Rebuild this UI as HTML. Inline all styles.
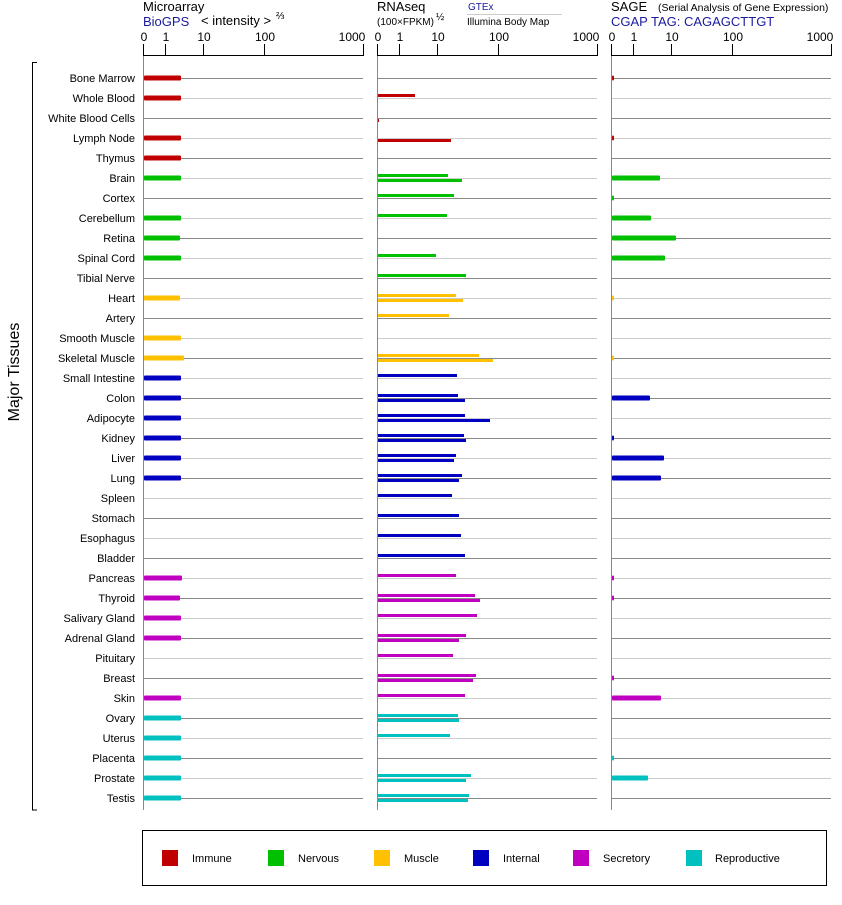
<!DOCTYPE html>
<html><head><meta charset="utf-8"><style>
body{margin:0;background:#fff}
svg text{font-family:"Liberation Sans",Arial,sans-serif}
</style></head><body>
<svg id="s" width="842" height="900" xmlns="http://www.w3.org/2000/svg">
<rect width="842" height="900" fill="#fff"/>
<g id="lines"></g>
<text x="143" y="11" font-size="13">Microarray</text>
<text x="143" y="26" font-size="13" fill="#1a1aa0">BioGPS</text>
<text x="201" y="25" font-size="13">&lt; intensity &gt;</text>
<text x="276" y="19" font-size="10">⅔</text>
<text x="377" y="11" font-size="13">RNAseq</text>
<text x="377" y="25" font-size="10">(100×FPKM)</text>
<text x="436" y="20" font-size="10">½</text>
<text x="468" y="10" font-size="10" fill="#1a1aa0">GTEx</text>
<line x1="467" y1="14.5" x2="562" y2="14.5" stroke="#ccc"/>
<text x="467" y="25" font-size="10">Illumina Body Map</text>
<text x="611" y="11" font-size="13">SAGE</text>
<text x="658" y="11" font-size="10.5">(Serial Analysis of Gene Expression)</text>
<text x="611" y="26" font-size="13" fill="#1a1aa0">CGAP TAG: CAGAGCTTGT</text>
<g font-size="12" text-anchor="middle">
<text x="144" y="41">0</text><text x="166" y="41">1</text><text x="204" y="41">10</text><text x="265" y="41">100</text><text x="352" y="41">1000</text>
<text x="378" y="41">0</text><text x="400" y="41">1</text><text x="438" y="41">10</text><text x="499" y="41">100</text><text x="586" y="41">1000</text>
<text x="612" y="41">0</text><text x="634" y="41">1</text><text x="672" y="41">10</text><text x="733" y="41">100</text><text x="820" y="41">1000</text>
</g>
<text transform="translate(19,372) rotate(-90)" font-size="16" text-anchor="middle">Major Tissues</text>
<path d="M37,62.5 H32.5 V810 H37" fill="none" stroke="#000"/>
<g font-size="11" text-anchor="end">
<text x="135" y="82">Bone Marrow</text><text x="135" y="102">Whole Blood</text><text x="135" y="122">White Blood Cells</text><text x="135" y="142">Lymph Node</text><text x="135" y="162">Thymus</text>
<text x="135" y="182">Brain</text><text x="135" y="202">Cortex</text><text x="135" y="222">Cerebellum</text><text x="135" y="242">Retina</text><text x="135" y="262">Spinal Cord</text><text x="135" y="282">Tibial Nerve</text>
<text x="135" y="302">Heart</text><text x="135" y="322">Artery</text><text x="135" y="342">Smooth Muscle</text><text x="135" y="362">Skeletal Muscle</text>
<text x="135" y="382">Small Intestine</text><text x="135" y="402">Colon</text><text x="135" y="422">Adipocyte</text><text x="135" y="442">Kidney</text><text x="135" y="462">Liver</text><text x="135" y="482">Lung</text><text x="135" y="502">Spleen</text><text x="135" y="522">Stomach</text><text x="135" y="542">Esophagus</text><text x="135" y="562">Bladder</text>
<text x="135" y="582">Pancreas</text><text x="135" y="602">Thyroid</text><text x="135" y="622">Salivary Gland</text><text x="135" y="642">Adrenal Gland</text><text x="135" y="662">Pituitary</text><text x="135" y="682">Breast</text><text x="135" y="702">Skin</text>
<text x="135" y="722">Ovary</text><text x="135" y="742">Uterus</text><text x="135" y="762">Placenta</text><text x="135" y="782">Prostate</text><text x="135" y="802">Testis</text>
</g>
<g id="bars"></g>
<rect x="142.5" y="830.5" width="684" height="55" fill="none" stroke="#000"/>
<rect x="162" y="850" width="16" height="16" fill="#c00000"/><rect x="268" y="850" width="16" height="16" fill="#00c000"/><rect x="374" y="850" width="16" height="16" fill="#ffc000"/><rect x="473" y="850" width="16" height="16" fill="#0000c0"/><rect x="573" y="850" width="16" height="16" fill="#c000c0"/><rect x="686" y="850" width="16" height="16" fill="#00c0c0"/>
<g font-size="11"><text x="192" y="862">Immune</text><text x="298" y="862">Nervous</text><text x="404" y="862">Muscle</text><text x="503" y="862">Internal</text><text x="603" y="862">Secretory</text><text x="715" y="862">Reproductive</text></g>
</svg>
<script>
var NS="http://www.w3.org/2000/svg";
function el(p,t,a){var e=document.createElementNS(NS,t);for(var k in a)e.setAttribute(k,a[k]);document.getElementById(p).appendChild(e);}
var P=[143,377,611],T=[0,22,60,121,220];
for(var i=0;i<37;i++){var y=78+20*i+0.5;var c=i%2?"#ccc":"#888";
 P.forEach(function(x){el("lines","line",{x1:x,y1:y,x2:x+220,y2:y,stroke:c});});}
P.forEach(function(x){
 el("lines","line",{x1:x+0.5,y1:55.5,x2:x+0.5,y2:810,stroke:"#888"});
 el("lines","line",{x1:x,y1:55.5,x2:x+221,y2:55.5,stroke:"#000"});
 T.forEach(function(t){el("lines","line",{x1:x+t+0.5,y1:44,x2:x+t+0.5,y2:56,stroke:"#000"});});
});
var C={r:"#c00000",g:"#00c000",y:"#ffc000",b:"#0000c0",m:"#c000c0",c:"#00c0c0"};
var cats="rrrrrggggggyyyybbbbbbbbbbmmmmmmmccccc";
var mi={0:181,1:181,3:181,4:181,5:181,7:181,8:180,9:181,11:180,13:181,14:184,15:181,16:181,17:181,18:181,19:181,20:181,25:182,26:180,27:181,28:181,31:181,32:181,33:181,34:181,35:181,36:181};
var rt={1:415,5:448,6:454,7:447,9:436,10:466,11:456,12:449,14:479,15:457,16:458,17:465,18:464,19:456,20:462,21:452,22:459,23:461,24:465,25:456,26:475,27:477,28:466,29:453,30:476,31:465,32:458,33:450,35:471,36:469};
var rb={2:379,3:451,5:462,11:463,14:493,16:465,17:490,18:466,19:454,20:459,26:480,28:459,30:473,32:459,35:466,36:468};
var sg={0:614,3:614,5:660,6:614,7:651,8:676,9:665,11:614,14:614,16:650,18:614,19:664,20:661,25:614,26:614,30:614,31:661,34:614,35:648};
for(var i=0;i<37;i++){var y=78+20*i,col=C[cats[i]];
 if(mi[i])el("bars","rect",{x:144,y:y-2.5,width:mi[i]-144,height:5,fill:col,rx:1});
 if(rt[i])el("bars","rect",{x:378,y:y-4,width:rt[i]-378,height:3,fill:col});
 if(rb[i])el("bars","rect",{x:378,y:y+1,width:rb[i]-378,height:3,fill:col});
 if(sg[i])el("bars","rect",{x:612,y:y-2.5,width:sg[i]-612,height:5,fill:col,rx:1});
}
</script>
</body></html>
